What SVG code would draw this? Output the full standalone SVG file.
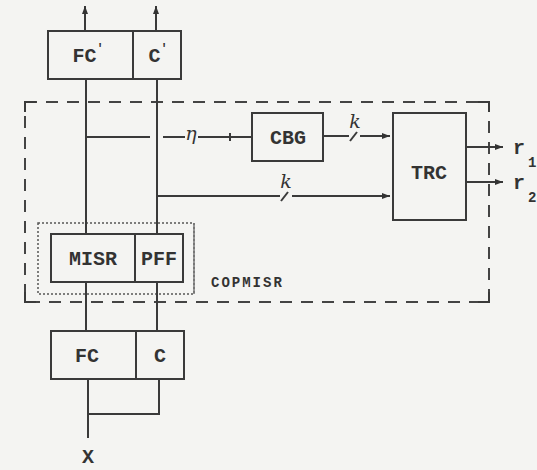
<svg xmlns="http://www.w3.org/2000/svg" width="537" height="470" viewBox="0 0 537 470">
<defs>
<style>
.ln{stroke:#3a3a3a;stroke-width:2;fill:none}
.box{stroke:#3a3a3a;stroke-width:2;fill:none}
.dash{stroke:#444;stroke-width:2;fill:none;stroke-dasharray:12 9}
.dot{stroke:#555;stroke-width:1.5;fill:none;stroke-dasharray:2 2}
.t{font-family:"Liberation Mono","DejaVu Sans Mono",monospace;font-weight:bold;fill:#333;font-size:20px;text-anchor:middle}
.s{font-family:"Liberation Mono","DejaVu Sans Mono",monospace;font-weight:bold;fill:#333;font-size:14px}
.sw{font-family:"DejaVu Serif","Liberation Serif",serif;font-style:italic;fill:#333;font-size:19px;text-anchor:middle}
</style>
<marker id="ah" markerWidth="8" markerHeight="6" refX="8" refY="3" orient="auto" markerUnits="userSpaceOnUse">
<path d="M0,0 L8,3 L0,6 z" fill="#333"/>
</marker>
</defs>
<rect width="537" height="470" fill="#f4f4f2"/>

<g id="copmisr-frame">
<rect class="dash" x="25" y="102" width="464" height="200"/>
<path class="ln" d="M25,112 V102 H36"/>
<path class="ln" d="M25,292 V302 H36"/>
<path class="ln" d="M478,102 H489 V112"/>
<path class="ln" d="M489,292 V302 H478"/>
<text class="s" x="211" y="287" letter-spacing="2">COPMISR</text>
</g>

<g id="node-fcp-cp">
<rect class="box" x="48" y="31" width="133" height="48"/>
<line class="ln" x1="133" y1="31" x2="133" y2="79"/>
<text class="t" x="88" y="62">FC<tspan font-size="12" dy="-10">'</tspan></text>
<text class="t" x="158" y="62">C<tspan font-size="12" dy="-10">'</tspan></text>
</g>

<g id="node-misr-pff">
<rect class="dot" x="38" y="223" width="156" height="71"/>
<line x1="194" y1="223" x2="194" y2="294" stroke="#777" stroke-width="1.5"/>
<rect class="box" x="51" y="234" width="132" height="48"/>
<line class="ln" x1="135" y1="234" x2="135" y2="282"/>
<text class="t" x="93" y="265">MISR</text>
<text class="t" x="159" y="265">PFF</text>
</g>

<g id="node-fc-c">
<rect class="box" x="51" y="331" width="133" height="48"/>
<line class="ln" x1="136" y1="331" x2="136" y2="379"/>
<text class="t" x="87" y="362">FC</text>
<text class="t" x="160" y="362">C</text>
</g>

<g id="node-cbg">
<rect class="box" x="252" y="113" width="71" height="48"/>
<text class="t" x="288" y="144">CBG</text>
</g>

<g id="node-trc">
<rect class="box" x="393" y="113" width="73" height="107"/>
<text class="t" x="429" y="179">TRC</text>
</g>

<g id="outputs">
<text class="t" x="519" y="154">r</text>
<text class="s" x="528" y="167">1</text>
<text class="t" x="519" y="189">r</text>
<text class="s" x="528" y="202">2</text>
<text class="t" x="88" y="463">X</text>
</g>

<g id="connectors">
<line class="ln" x1="85" y1="31" x2="85" y2="6" marker-end="url(#ah)"/>
<line class="ln" x1="156" y1="31" x2="156" y2="6" marker-end="url(#ah)"/>
<line class="ln" x1="86" y1="79" x2="86" y2="234"/>
<line class="ln" x1="157" y1="79" x2="157" y2="234"/>
<line class="ln" x1="86" y1="282" x2="86" y2="331"/>
<line class="ln" x1="157" y1="282" x2="157" y2="331"/>
<line class="ln" x1="88" y1="379" x2="88" y2="438"/>
<path class="ln" d="M159,379 V414 H88"/>
<line class="ln" x1="86" y1="137" x2="150" y2="137"/>
<line class="ln" x1="163" y1="137" x2="185" y2="137"/>
<text class="sw" x="191" y="140">η</text>
<line class="ln" x1="198" y1="137" x2="252" y2="137"/>
<line class="ln" x1="230" y1="133" x2="230" y2="141" stroke-width="1.2"/>
<line class="ln" x1="323" y1="136" x2="349" y2="136"/>
<line class="ln" x1="350" y1="141" x2="357" y2="132"/>
<text class="sw" x="355" y="128" font-size="14">k</text>
<line class="ln" x1="360" y1="136" x2="390" y2="136" marker-end="url(#ah)"/>
<line class="ln" x1="157" y1="196" x2="280" y2="196"/>
<line class="ln" x1="281" y1="201" x2="288" y2="192"/>
<text class="sw" x="286" y="188" font-size="14">k</text>
<line class="ln" x1="292" y1="196" x2="390" y2="196" marker-end="url(#ah)"/>
<line class="ln" x1="466" y1="147" x2="503" y2="147" marker-end="url(#ah)"/>
<line class="ln" x1="466" y1="182" x2="503" y2="182" marker-end="url(#ah)"/>
</g>
</svg>
